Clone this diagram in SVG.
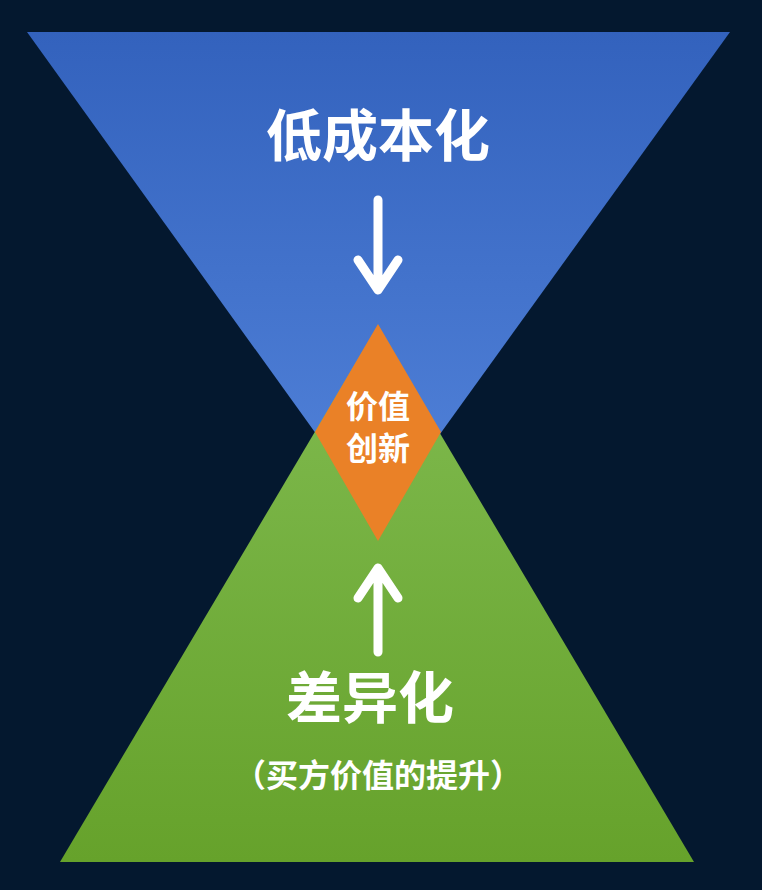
<svg xmlns="http://www.w3.org/2000/svg" width="762" height="890" viewBox="0 0 762 890">
<style>
text{font-family:"Noto Sans CJK SC","Noto Sans",sans-serif;font-weight:bold;fill:#fff;text-anchor:middle}
.arr{stroke:#fff;stroke-width:9;fill:none;stroke-linecap:round;stroke-linejoin:round}
</style>
<defs>
<linearGradient id="gb" x1="0" y1="0" x2="0" y2="1"><stop offset="0" stop-color="#3362bd"/><stop offset="1" stop-color="#5283da"/></linearGradient>
<linearGradient id="gg" x1="0" y1="0" x2="0" y2="1"><stop offset="0" stop-color="#80bb50"/><stop offset="1" stop-color="#66a22b"/></linearGradient>
</defs>
<rect width="762" height="890" fill="#04182f"/>
<g id="blue"><polygon points="27,32 730,32 378,520" fill="url(#gb)"/></g>
<g id="green"><polygon points="60,862 694,862 377,327" fill="url(#gg)"/></g>
<g id="diamond"><polygon points="378,324 441,432 378,541 315,432" fill="#ea8127"/>
<text x="378" y="418" font-size="32">价值</text><text x="378" y="460" font-size="32">创新</text></g>
<g id="top"><text x="378" y="156" font-size="56">低成本化</text></g>
<g id="bottom"><text x="370" y="718" font-size="56">差异化</text><text x="378" y="787" font-size="32">（买方价值的提升）</text></g>
<g id="connectors">
<path class="arr" d="M378,200 V288 M358,260 L378,290 L398,260"/>
<path class="arr" d="M378,652 V570 M358,598 L378,568 L398,598"/>
</g>
</svg>
